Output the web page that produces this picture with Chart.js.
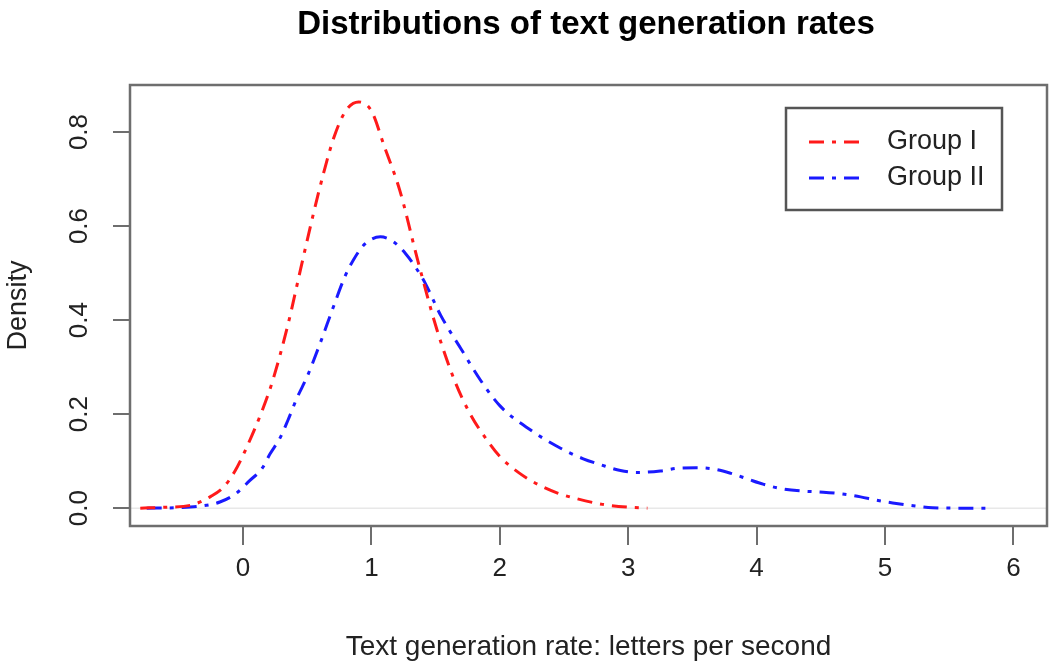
<!DOCTYPE html>
<html><head><meta charset="utf-8">
<script src="https://cdn.jsdelivr.net/npm/chart.js@4.4.0/dist/chart.umd.min.js"></script>
<style>html,body{margin:0;padding:0;background:#fff}#wrap{width:1050px;height:666px}</style>
</head><body><div id="wrap"><canvas id="c" width="1050" height="666"></canvas></div>
<script>
const titleText = 'Distributions of text generation rates';
const xAxisTitle = 'Text generation rate: letters per second';
const yAxisTitle = 'Density';
const seriesNames = ['Group I', 'Group II'];
const xTickValues = [0, 1, 2, 3, 4, 5, 6];
const yTickValues = [0, 0.2, 0.4, 0.6, 0.8];
const yTickLabels = ['0.0', '0.2', '0.4', '0.6', '0.8'];

const groupIRate = [-0.80,-0.60,-0.41,-0.25,-0.15,-0.06,0.03,0.16,0.23,0.35,0.45,0.55,0.63,0.71,0.80,0.90,1.00,1.10,1.22,1.36,1.51,1.65,1.77,1.90,2.00,2.15,2.30,2.45,2.60,2.80,3.00,3.15];
const groupIDensity = [0.000,0.002,0.006,0.025,0.045,0.080,0.130,0.215,0.270,0.390,0.510,0.628,0.715,0.790,0.845,0.864,0.845,0.770,0.677,0.528,0.380,0.270,0.200,0.145,0.110,0.075,0.050,0.032,0.020,0.008,0.002,0.000];

const groupIIRate = [-0.75,-0.50,-0.34,-0.18,-0.05,0.05,0.15,0.21,0.29,0.35,0.42,0.50,0.60,0.70,0.79,0.86,0.95,1.07,1.18,1.27,1.35,1.42,1.54,1.70,1.85,2.00,2.24,2.47,2.65,2.79,2.94,3.07,3.25,3.39,3.53,3.67,3.80,3.93,4.05,4.20,4.37,4.52,4.67,4.81,4.93,5.06,5.22,5.37,5.60,5.82];
const groupIIDensity = [0.000,0.001,0.004,0.013,0.032,0.058,0.085,0.115,0.150,0.187,0.234,0.280,0.350,0.425,0.490,0.528,0.562,0.577,0.565,0.540,0.510,0.478,0.410,0.338,0.272,0.218,0.166,0.128,0.105,0.092,0.080,0.076,0.079,0.085,0.086,0.083,0.074,0.062,0.051,0.041,0.036,0.034,0.030,0.024,0.017,0.011,0.005,0.001,0.000,0.000];

const FONT = "'Liberation Sans', Arial, Helvetica, sans-serif";
const DASH = [15, 8, 4, 8];
const AXIS_GRAY = '#6e6e6e';

const decor = {
  id: 'decor',
  beforeDatasetsDraw(chart) {
    const {ctx, chartArea: a, scales: {y}} = chart;
    ctx.save();
    const y0 = y.getPixelForValue(0);
    ctx.strokeStyle = '#e8e8e8';
    ctx.lineWidth = 1.5;
    ctx.beginPath(); ctx.moveTo(a.left, y0); ctx.lineTo(a.right, y0); ctx.stroke();
    ctx.restore();
  },
  afterDraw(chart) {
    const {ctx, chartArea: a, scales: {y}} = chart;
    ctx.save();
    ctx.strokeStyle = AXIS_GRAY;
    ctx.lineWidth = 2.5;
    ctx.strokeRect(a.left, a.top, a.right - a.left, a.bottom - a.top);

    ctx.fillStyle = '#000';
    ctx.font = 'bold 33px ' + FONT;
    ctx.textAlign = 'center';
    ctx.textBaseline = 'alphabetic';
    ctx.fillText(titleText, 586, 34);

    ctx.font = '26px ' + FONT;
    ctx.fillStyle = '#222';
    y.ticks.forEach((t, i) => {
      const py = y.getPixelForValue(t.value);
      ctx.save();
      ctx.translate(80, py);
      ctx.rotate(-Math.PI / 2);
      ctx.textAlign = 'center';
      ctx.textBaseline = 'middle';
      ctx.fillText(yTickLabels[i], 0, 0);
      ctx.restore();
    });

    // legend
    const lx = 786, ly = 108, lw = 216, lh = 102;
    ctx.fillStyle = '#fff';
    ctx.fillRect(lx, ly, lw, lh);
    ctx.strokeStyle = '#555';
    ctx.lineWidth = 2.5;
    ctx.strokeRect(lx, ly, lw, lh);
    const rows = [142, 178];
    chart.data.datasets.forEach((ds, i) => {
      ctx.save();
      ctx.strokeStyle = ds.borderColor;
      ctx.lineWidth = 3;
      ctx.setLineDash(ds.borderDash);
      ctx.beginPath(); ctx.moveTo(809, rows[i]); ctx.lineTo(864, rows[i]); ctx.stroke();
      ctx.restore();
      ctx.fillStyle = '#222';
      ctx.font = '27px ' + FONT;
      ctx.textAlign = 'left';
      ctx.textBaseline = 'middle';
      ctx.fillText(ds.label, 887, rows[i]);
    });
    ctx.restore();
  }
};

const toPoints = (xs, ys) => xs.map((v, i) => ({x: v, y: ys[i]}));

new Chart(document.getElementById('c'), {
  type: 'line',
  data: {
    datasets: [
      {label: seriesNames[0], data: toPoints(groupIRate, groupIDensity), borderColor: '#ff1a1a', borderWidth: 3, borderDash: DASH, pointRadius: 0, cubicInterpolationMode: 'monotone', fill: false},
      {label: seriesNames[1], data: toPoints(groupIIRate, groupIIDensity), borderColor: '#1a1aff', borderWidth: 3, borderDash: DASH, pointRadius: 0, cubicInterpolationMode: 'monotone', fill: false}
    ]
  },
  options: {
    responsive: false,
    animation: false,
    devicePixelRatio: 1,
    layout: {padding: {top: 85, right: 3, left: 0, bottom: 0}},
    plugins: {legend: {display: false}, title: {display: false}, tooltip: {enabled: false}},
    scales: {
      x: {
        type: 'linear', min: -0.88, max: 6.262,
        afterBuildTicks: s => { s.ticks = xTickValues.map(v => ({value: v})); },
        afterFit: s => { s.height = 140; },
        grid: {drawOnChartArea: false, drawTicks: true, tickLength: 19, color: AXIS_GRAY, lineWidth: 2},
        border: {display: false},
        ticks: {font: {size: 26, family: FONT}, color: '#222', padding: 8, maxRotation: 0, autoSkip: false, callback: v => String(v)},
        title: {display: true, text: xAxisTitle, font: {size: 28, family: FONT}, color: '#222', padding: {top: 0, bottom: 2}}
      },
      y: {
        type: 'linear', min: -0.038, max: 0.9,
        afterBuildTicks: s => { s.ticks = yTickValues.map(v => ({value: v})); },
        afterFit: s => { s.width = 130; },
        grid: {drawOnChartArea: false, drawTicks: true, tickLength: 17, color: AXIS_GRAY, lineWidth: 2},
        border: {display: false},
        ticks: {display: false},
        title: {display: true, text: yAxisTitle, font: {size: 27, family: FONT}, color: '#222', padding: {top: 2, bottom: 0}}
      }
    }
  },
  plugins: [decor]
});
</script>
</body></html>
